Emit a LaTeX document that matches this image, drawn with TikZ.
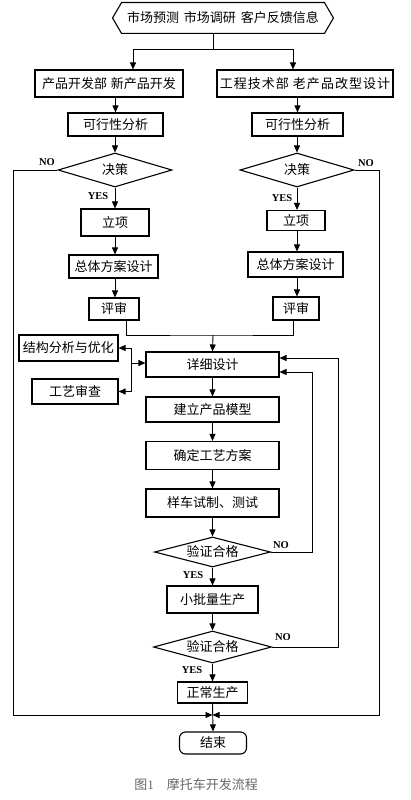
\documentclass[tikz,border=0pt]{standalone}
\usepackage{fontspec}
\setmainfont{Noto Sans CJK SC}
\newfontfamily\lat{Liberation Serif}
\usetikzlibrary{arrows.meta,shapes.geometric}
\begin{document}
\begin{tikzpicture}[x=1pt,y=-1pt,
  >={Triangle[length=7pt,width=6pt]},
  every path/.style={line width=0.9pt},
  box/.style={draw,line width=1.1pt,inner sep=0pt,font=\fontsize{13}{15}\selectfont},
  dia/.style={draw,diamond,aspect=3.5,line width=1.1pt,inner sep=0pt,font=\fontsize{13}{15}\selectfont},
  lbl/.style={font=\lat\bfseries\fontsize{10.5}{12}\selectfont,inner sep=0pt},
  wh/.style 2 args={minimum width=#1,minimum height=#2}]
\useasboundingbox (0,0) rectangle (411,800);
% nodes
\node[inner sep=0pt,wh={220}{30},font=\fontsize{13}{15}\selectfont] (top) at (223,18) {市场预测\hspace{5pt}市场调研\hspace{5pt}客户反馈信息};
\draw[line width=1.1pt] (top.west) -- ([xshift=9pt]top.north west) -- ([xshift=-9pt]top.north east) -- (top.east) -- ([xshift=-9pt]top.south east) -- ([xshift=9pt]top.south west) -- cycle;
\node[box,wh={148}{27}] (ld) at (109,83.5) {产品开发部\hspace{4pt}新产品开发};
\node[box,wh={176}{27}] (rd) at (305,83.5) {\addfontfeature{LetterSpace=8}工程技术部\hspace{4pt}老产品改型设计};
\node[box,wh={95}{23}] (lf) at (115.5,124.5) {可行性分析};
\node[box,wh={91}{23}] (rf) at (297.5,124.5) {可行性分析};
\node[dia,wh={114}{34}] (lj) at (115,170) {决策};
\node[dia,wh={114}{34}] (rj) at (297,170) {决策};
\node[box,wh={68}{27}] (ll) at (115,222.5) {立项};
\node[box,wh={58}{20}] (rl) at (296,220.5) {立项};
\node[box,wh={89}{23}] (lz) at (113.5,266.5) {总体方案设计};
\node[box,wh={95}{25}] (rz) at (295.5,264.5) {总体方案设计};
\node[box,wh={50}{22}] (lp) at (114,309) {评审};
\node[box,wh={46}{23}] (rp) at (296,308.5) {评审};
\node[box,wh={133}{25}] (xx) at (212.5,364.5) {详细设计};
\node[box,wh={133}{25}] (jl) at (212.5,409.5) {建立产品模型};
\node[box,wh={133}{28}] (qd) at (212.5,455.5) {确定工艺方案};
\node[box,wh={133}{28}] (yc) at (212.5,503) {样车试制、测试};
\node[dia,wh={116}{30}] (v1) at (212.5,552) {验证合格};
\node[box,wh={91}{27}] (xp) at (212.5,599.5) {小批量生产};
\node[dia,wh={118}{32}] (v2) at (212.5,647) {验证合格};
\node[box,wh={70}{21}] (zc) at (212.5,692.5) {正常生产};
\node[box,rounded corners=6pt,wh={67}{22}] (js) at (213,743) {结束};
\node[box,wh={99}{26}] (jg) at (68.5,348) {结构分析与优化};
\node[box,wh={86}{25}] (gy) at (75,391.5) {工艺审查};
\node[font=\fontsize{13}{15}\selectfont,text=black!60,inner sep=0pt] (cap) at (196,785) {图{\lat 1}\quad 摩托车开发流程};
% labels
\node[lbl] (n1) at (47,162) {NO};
\node[lbl] (n2) at (366,163) {NO};
\node[lbl] (y1) at (98,196) {YES};
\node[lbl] (y2) at (282,198) {YES};
\node[lbl] (n3) at (281,545) {NO};
\node[lbl] (y3) at (193,575) {YES};
\node[lbl] (n4) at (283,637) {NO};
\node[lbl] (y4) at (192,670) {YES};
% coordinates
\coordinate (tj) at (213,49);
\coordinate (tl) at (133,49);
\coordinate (tr) at (293,49);
\coordinate (m) at (213,335);
\coordinate (sb) at (131,363);
\coordinate (r1) at (312,372);
\coordinate (r2) at (338,358);
\coordinate (j) at (212.5,715);
\coordinate (ol) at (13,715);
\coordinate (or) at (379,715);
% connectors
\draw (top.south -| tj) -- (tj);
\draw[->] (tl) -- (tr) -- (tr |- rd.north);
\draw[->] (tl) -- (tl |- ld.north);
\draw[->] (ld.south -| lf.north) -- (lf.north);
\draw[->] (rd.south -| rf.north) -- (rf.north);
\draw[->] (lf.south -| lj.north) -- (lj.north);
\draw[->] (rf.south -| rj.north) -- (rj.north);
\draw[->] (lj.south) -- (lj.south |- ll.north);
\draw[->] (rj.south) -- (rj.south |- rl.north);
\draw[->] (ll.south -| lj.south) -- (lj.south |- lz.north);
\draw[->] (rl.south -| rj.south) -- (rj.south |- rz.north);
\draw[->] (lz.south -| lj.south) -- (lj.south |- lp.north);
\draw[->] (rz.south -| rj.south) -- (rj.south |- rp.north);
\draw ([xshift=12pt]lp.south) |- (m) -| ([xshift=-3pt]rp.south);
\draw[->] (m) -- (xx.north);
\draw[->] (sb) -- (sb -| xx.west);
\draw[->] (sb) |- (jg.east);
\draw[->] (sb) |- (gy.east);
\draw[->] (xx.south) -- (jl.north);
\draw[->] (jl.south) -- (qd.north);
\draw[->] (qd.south) -- (yc.north);
\draw[->] (yc.south) -- (v1.north);
\draw[->] (v1.south) -- (xp.north);
\draw[->] (xp.south) -- (v2.north);
\draw[->] (v2.south) -- (zc.north);
\draw[->] (v1.east) -| (r1) -- (r1 -| xx.east);
\draw[->] (v2.east) -| (r2) -- (r2 -| xx.east);
\draw[->] (lj.west) -| (ol) -- (j);
\draw[->] (rj.east) -| (or) -- (j);
\draw[->] (zc.south) -- (js.north);
\end{tikzpicture}
\end{document}
